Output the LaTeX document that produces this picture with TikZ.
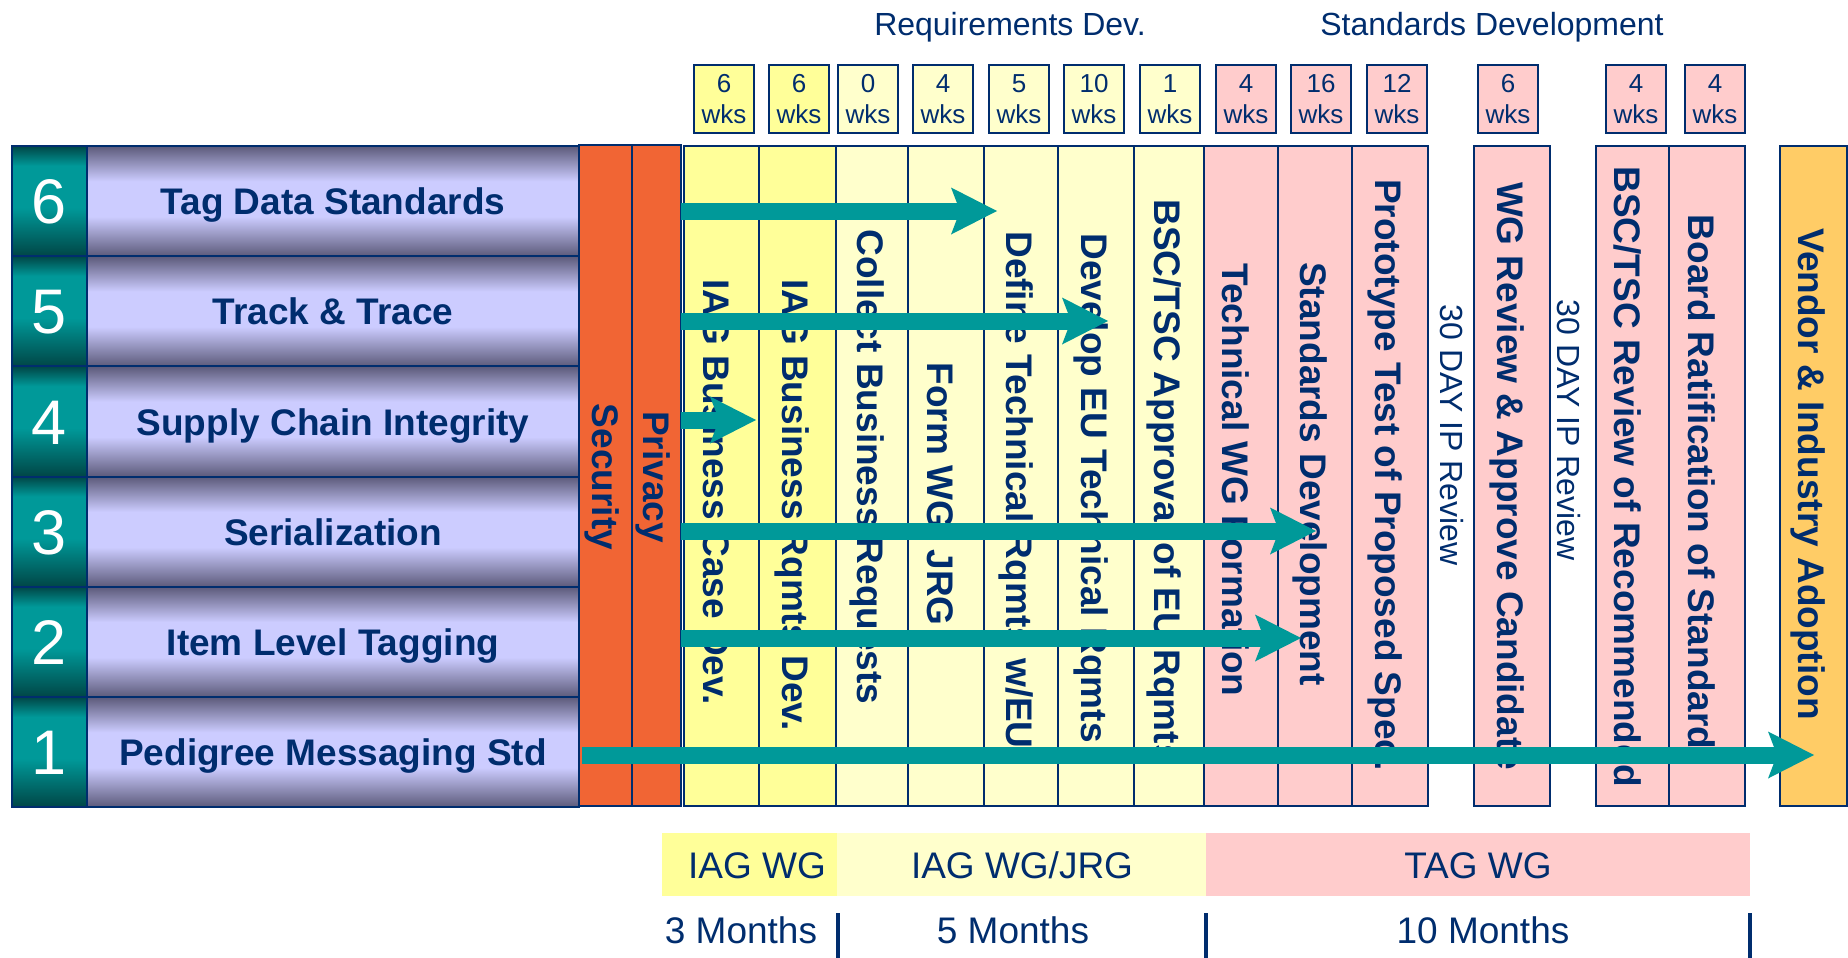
\documentclass[tikz,border=0pt]{standalone}
\usepackage{fontspec}
\setmainfont{Liberation Sans}
\usepackage{xcolor}
\usepackage{tikz}
\usetikzlibrary{arrows.meta}

\definecolor{navy}{RGB}{0,45,110}
\definecolor{tealarrow}{RGB}{0,153,153}
\definecolor{yelA}{RGB}{255,255,153}
\definecolor{yelB}{RGB}{255,255,204}
\definecolor{pinkC}{RGB}{255,204,204}
\definecolor{orangeS}{RGB}{241,101,52}
\definecolor{vendorC}{RGB}{255,204,102}
\definecolor{bardark}{RGB}{92,90,122}
\definecolor{barlight}{RGB}{204,204,255}
\definecolor{numdark}{RGB}{0,70,70}
\definecolor{numlight}{RGB}{0,153,153}

\pgfdeclareverticalshading{barshade}{100bp}{color(0bp)=(bardark); color(25bp)=(bardark);
  color(43bp)=(barlight); color(59bp)=(barlight); color(75bp)=(bardark); color(100bp)=(bardark)}
\pgfdeclareverticalshading{numshade}{100bp}{color(0bp)=(numdark); color(25bp)=(numdark);
  color(47bp)=(numlight); color(66bp)=(numlight); color(75bp)=(numdark); color(100bp)=(numdark)}

\tikzset{
  coltext/.style={rotate=-90, font=\fontsize{18.5}{22}\selectfont\bfseries, text=navy},
  iptext/.style={rotate=-90, font=\fontsize{16}{19}\selectfont, text=navy},
  plain/.style={font=\fontsize{18.5}{22}\selectfont, text=navy},
  flow/.style={draw=tealarrow, line width=8.5pt,
    -{Stealth[length=23pt, width=23.5pt, inset=4.5pt, line width=0pt]}},
}

\begin{document}
\begin{tikzpicture}[x=0.5pt, y=-0.5pt]
    \useasboundingbox (0,0) rectangle (1848,958);
    \foreach \n/\t [count=\i from 0] in {6/Tag Data Standards, 5/Track \& Trace,
        4/Supply Chain Integrity, 3/Serialization, 2/Item Level Tagging, 1/Pedigree Messaging Std}
    {
        \pgfmathsetmacro\yt{146+110.2*\i}
        \pgfmathsetmacro\yb{\yt+110.2}
        \pgfmathsetmacro\yc{\yt+55.1}
        \shadedraw[shading=numshade, draw=navy, line width=1pt] (12,\yt) rectangle (87,\yb);
        \shadedraw[shading=barshade, draw=navy, line width=1pt] (87,\yt) rectangle (579,\yb);
        \node[anchor=base, text=white, font=\fontsize{31.5}{36}\selectfont] (num\n)
            at (49.5,\yc+22.5) {\n};
        \node[anchor=base, text=navy, font=\fontsize{18.5}{22}\selectfont\bfseries] (row\n)
            at (333,\yc+13.5) {\t};
    }
    \filldraw[fill=orangeS, draw=navy, line width=0.8pt] (579,145) rectangle (632,806);
    \filldraw[fill=orangeS, draw=navy, line width=0.8pt] (632,145) rectangle (681,806);
    \node[coltext] (sec) at (602,477) {Security};
    \node[coltext] (priv) at (653,477) {Privacy};
    \foreach \xa/\xb/\c/\yc/\t [count=\k] in {684/759/yelA/492/{IAG Business Case Dev.},
        759/836/yelA/505/{IAG Business Rqmts Dev.}, 836/908/yelB/467/{Collect Business Requests},
        908/984/yelB/494/{Form WG/ JRG}, 984/1058/yelB/490/{Define Technical Rqmts w/EU},
        1058/1134/yelB/488/{Develop EU Technical Rqmts}, 1134/1204/yelB/482/{BSC/TSC Approval of EU Rqmts},
        1204/1278/pinkC/480/{Technical WG Formation}, 1278/1352/pinkC/474/{Standards Development},
        1352/1428/pinkC/475/{Prototype Test of Proposed Spec.},
        1474/1550/pinkC/476/{WG Review \& Approve Candidate},
        1596/1669/pinkC/477/{BSC/TSC Review of Recommended},
        1669/1745/pinkC/482/{Board Ratification of Standard},
        1780/1847/vendorC/474/{Vendor \& Industry Adoption}}
    {
        \filldraw[fill=\c, draw=navy, line width=0.8pt] (\xa,146) rectangle (\xb,806);
        \node[coltext] (task\k) at ({(\xa+\xb)/2-5},\yc) {\t};
    }
    \node[iptext] (ipa) at (1452,435) {30 DAY IP Review};
    \node[iptext] (ipb) at (1569,430) {30 DAY IP Review};
    \foreach \x/\w/\c [count=\k] in {694/6/yelA, 769/6/yelA, 838/0/yelB, 913/4/yelB, 989/5/yelB,
        1064/10/yelB, 1140/1/yelB, 1216/4/pinkC, 1291/16/pinkC, 1367/12/pinkC, 1478/6/pinkC,
        1606/4/pinkC, 1685/4/pinkC}
        \filldraw[fill=\c, draw=navy, line width=0.8pt] (\x,65) rectangle (\x+60,133)
        node[pos=.5, align=center, text=navy, font=\fontsize{13}{15.5}\selectfont] (wk\k) {\w\\wks};
    \node[anchor=base, font=\fontsize{16}{19}\selectfont, text=navy] (reqdev) at (1010,35)
        {Requirements Dev.};
    \node[anchor=base, font=\fontsize{16}{19}\selectfont, text=navy] (stddev) at (1492,35)
        {Standards Development};
    \fill[yelA] (662,833) rectangle (837,896);
    \fill[yelB] (837,833) rectangle (1206,896);
    \fill[pinkC] (1206,833) rectangle (1750,896);
    \node[plain, anchor=base] (iag) at (757,878.5) {IAG WG};
    \node[plain, anchor=base] (iagjrg) at (1022,878.5) {IAG WG/JRG};
    \node[plain, anchor=base] (tag) at (1478,878.5) {TAG WG};
    \node[plain, anchor=base] (mthree) at (741,943) {3 Months};
    \node[plain, anchor=base] (mfive) at (1013,943) {5 Months};
    \node[plain, anchor=base] (mten) at (1483,943) {10 Months};
    \foreach \x in {838,1206,1750}
        \draw[navy, line width=2pt] (\x,913) -- (\x,958);
    \foreach \r/\xs/\xe/\y in {6/681/997/211, 5/681/1108/321, 4/681/756/420,
        3/681/1316/531, 2/681/1301/638, 1/582/1814/755}
    {
        \coordinate (from\r) at (\xs,\y);
        \coordinate (to\r) at (\xe,\y);
        \draw[flow] (from\r) -- (to\r);
    }
\end{tikzpicture}
\end{document}
